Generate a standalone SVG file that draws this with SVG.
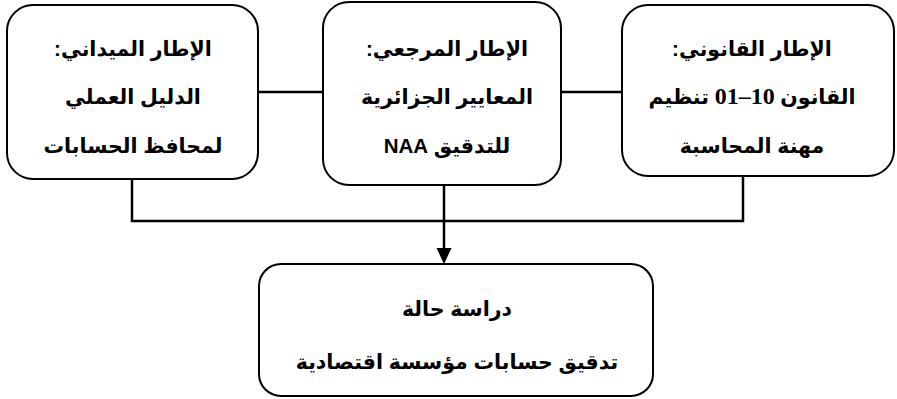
<svg xmlns="http://www.w3.org/2000/svg" width="897" height="399" viewBox="0 0 897 399">
<style>
.box{fill:#fff;stroke:#000;stroke-width:2}
.t{font-family:"Liberation Sans","DejaVu Sans",sans-serif;font-weight:bold;font-size:20.5px;text-anchor:middle;fill:#000}
.num{font-family:"Liberation Serif",serif;font-size:24px}
.c{fill:none;stroke:#000;stroke-width:2.5}
</style>
<g id="connectors">
<line class="c" x1="258" y1="92" x2="323" y2="92"/>
<line class="c" x1="561" y1="92" x2="622" y2="92"/>
<polyline class="c" points="132,179 132,221 743,221 743,176"/>
<line class="c" x1="444" y1="185" x2="444" y2="248"/>
<path d="M436.5,248 L451.5,248 L444,264 z" fill="#000"/>
</g>
<g id="node-field">
<rect class="box" x="7" y="5" width="251" height="174" rx="26" ry="26"/>
<text class="t" direction="rtl" x="133" y="56">الإطار الميداني:</text>
<text class="t" direction="rtl" x="133" y="104">الدليل العملي</text>
<text class="t" direction="rtl" x="133" y="153">لمحافظ الحسابات</text>
</g>
<g id="node-reference">
<rect class="box" x="323" y="2" width="238" height="183" rx="26" ry="26"/>
<text class="t" direction="rtl" x="447" y="56">الإطار المرجعي:</text>
<text class="t" direction="rtl" x="447" y="104">المعايير الجزائرية</text>
<text class="t" direction="rtl" x="447" y="153">للتدقيق NAA</text>
</g>
<g id="node-legal">
<rect class="box" x="622" y="5" width="272" height="171" rx="26" ry="26"/>
<text class="t" direction="rtl" x="752" y="56">الإطار القانوني:</text>
<text class="t" direction="rtl" x="752" y="104">القانون <tspan class="num">10–01</tspan> تنظيم</text>
<text class="t" direction="rtl" x="752" y="153">مهنة المحاسبة</text>
</g>
<g id="node-case">
<rect class="box" x="259" y="264" width="394" height="132" rx="22" ry="22"/>
<text class="t" direction="rtl" x="457" y="316">دراسة حالة</text>
<text class="t" direction="rtl" x="457" y="369">تدقيق حسابات مؤسسة اقتصادية</text>
</g>
</svg>
